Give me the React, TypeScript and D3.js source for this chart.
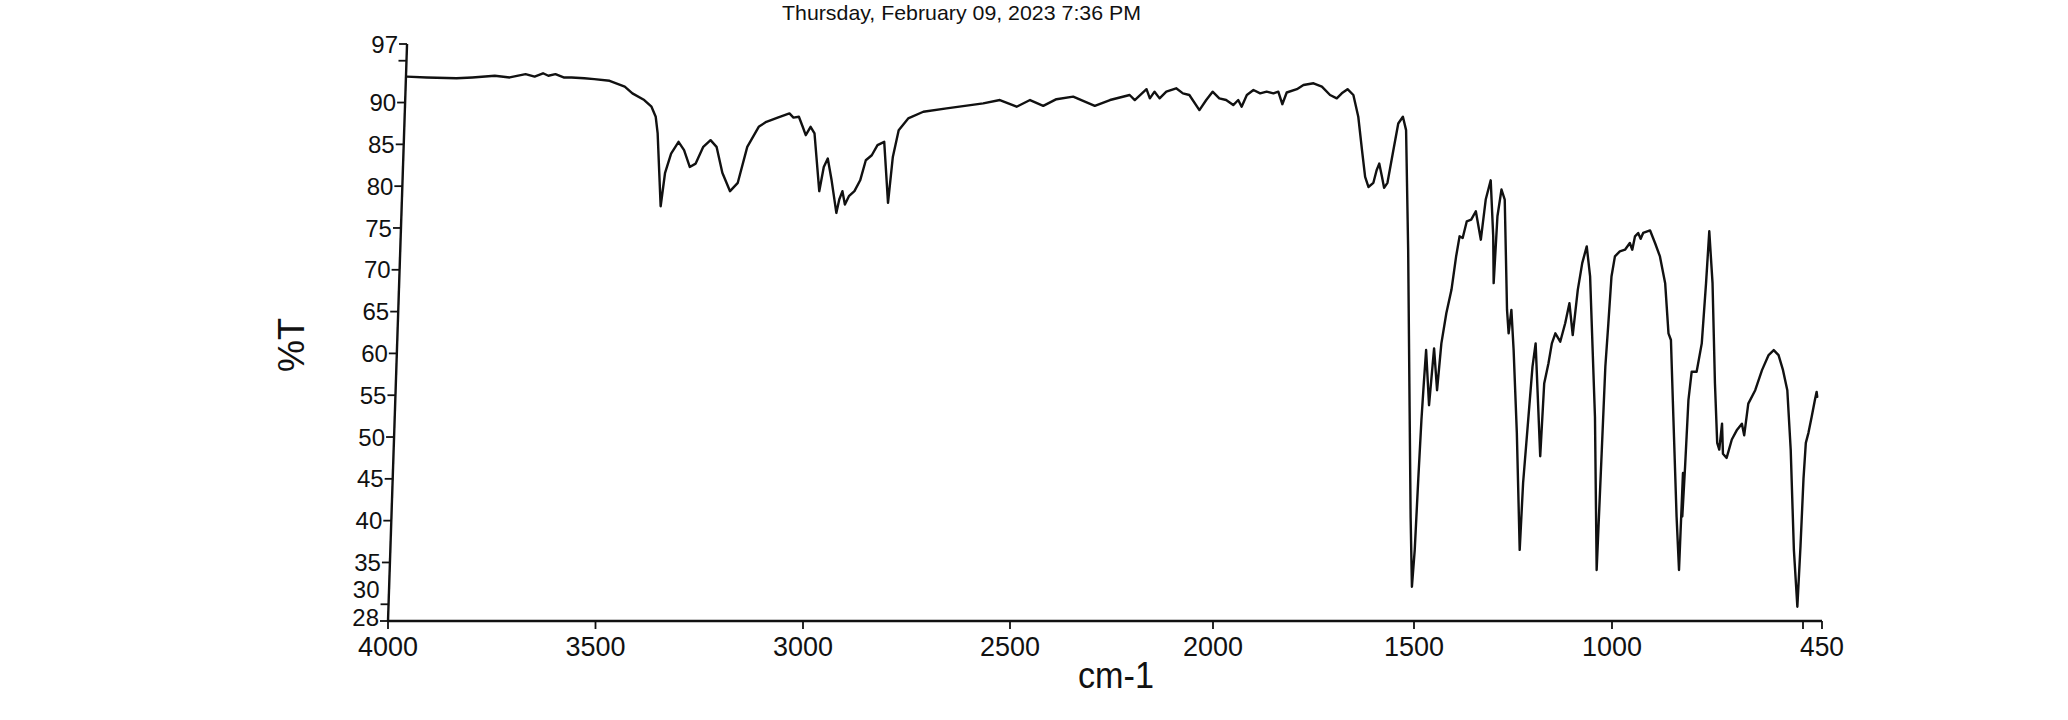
import React from "react";
import * as d3 from "d3";

const title = "Thursday, February 09, 2023 7:36 PM";
const xAxisLabel = "cm-1";
const yAxisLabel = "%T";

const xTickValues = [4000, 3500, 3000, 2500, 2000, 1500, 1000, 500, 450];
const xTickLabels = ["4000", "3500", "3000", "2500", "2000", "1500", "1000", "", "450"];
const yTickValues = [97, 95, 90, 85, 80, 75, 70, 65, 60, 55, 50, 45, 40, 35, 30, 28];
const yTickLabels = ["97", "", "90", "85", "80", "75", "70", "65", "60", "55", "50", "45", "40", "35", "30", "28"];

const wavenumbers = [
  3998, 3950, 3878, 3840, 3786, 3750, 3712, 3690, 3670, 3657, 3640, 3620, 3601, 3570, 3546, 3509,
  3472, 3453, 3424, 3406, 3395, 3389, 3382, 3376, 3368, 3355, 3338, 3324, 3309, 3295, 3278, 3261,
  3246, 3230, 3210, 3192, 3172, 3146, 3128, 3101, 3073, 3063, 3050, 3040, 3032, 3021, 3011, 2995,
  2986, 2977, 2966, 2952, 2946, 2939, 2932, 2923, 2910, 2897, 2885, 2871, 2858, 2842, 2828, 2820,
  2808, 2786, 2750, 2694, 2650, 2606, 2566, 2525, 2493, 2460, 2428, 2387, 2333, 2296, 2248, 2235,
  2207, 2198, 2187, 2174, 2158, 2134, 2117, 2101, 2075, 2059, 2044, 2027, 2010, 1992, 1980, 1971,
  1959, 1943, 1926, 1910, 1893, 1881, 1870, 1860, 1835, 1819, 1794, 1773, 1752, 1735, 1723, 1709,
  1694, 1680, 1668, 1658, 1649, 1637, 1630, 1624, 1616, 1610, 1602, 1590, 1580, 1569, 1560, 1545,
  1531, 1517, 1508, 1504, 1501, 1498, 1495, 1492, 1480, 1472, 1461, 1454, 1444, 1433, 1424, 1417,
  1409, 1400, 1389, 1378, 1363, 1354, 1343, 1332, 1327, 1323, 1315, 1306, 1291, 1285, 1280, 1271,
  1256, 1239, 1236, 1228, 1222, 1216, 1195, 1191, 1182, 1175, 1167, 1154, 1143, 1134, 1123, 1114,
  1105, 1095, 1084, 1060, 1043, 1040, 1038, 1034, 1030, 1023, 1011, 998, 986, 979, 973, 965,
  958, 952, 934, 920, 906, 890, 877, 870, 857, 840, 829, 827, 825, 822, 819, 813,
  800, 789, 783, 779, 766, 751, 740, 734, 729, 724, 714, 702, 690, 677, 670, 662,
  645, 629, 613, 600, 587, 574, 561, 547, 530, 516, 513, 511, 508, 502, 495, 488,
  484, 482,
];

const transmittance = [
  93.1, 93.0, 92.9, 93.0, 93.2, 93.0, 93.4, 93.1, 93.5, 93.2, 93.4, 93.0, 93.0, 92.9, 92.8, 92.6,
  91.9, 91.1, 90.3, 89.5, 88.3, 86.3, 81.6, 77.6, 81.6, 83.9, 85.3, 84.3, 82.3, 82.7, 84.7, 85.5,
  84.7, 81.6, 79.4, 80.4, 84.7, 87.1, 87.7, 88.2, 88.7, 88.2, 88.3, 87.1, 86.1, 87.1, 86.3, 79.4,
  82.3, 83.3, 80.7, 76.8, 78.4, 79.4, 77.8, 78.8, 79.4, 80.7, 83.1, 83.7, 84.9, 85.3, 78.0, 83.5,
  86.7, 88.1, 88.9, 89.3, 89.6, 89.9, 90.3, 89.5, 90.3, 89.6, 90.4, 90.7, 89.6, 90.3, 90.9, 90.3,
  91.6, 90.5, 91.3, 90.5, 91.3, 91.7, 91.1, 90.9, 89.1, 90.3, 91.3, 90.5, 90.3, 89.7, 90.3, 89.5,
  90.9, 91.5, 91.1, 91.3, 91.1, 91.3, 89.8, 91.2, 91.6, 92.1, 92.3, 91.9, 90.9, 90.5, 91.1, 91.6,
  90.9, 88.3, 84.3, 81.1, 79.9, 80.4, 81.9, 82.7, 81.1, 79.8, 80.4, 84.3, 87.5, 88.3, 86.7, 72.4,
  56.4, 40.5, 32.1, 36.5, 45.0, 52.0, 56.5, 60.4, 53.8, 60.6, 55.6, 61.2, 64.8, 67.6, 71.6, 74.0,
  73.8, 75.8, 76.0, 77.0, 73.6, 78.4, 80.7, 74.0, 68.4, 76.4, 79.6, 78.4, 65.2, 62.4, 65.2, 60.4,
  50.5, 36.5, 44.5, 52.4, 58.4, 61.2, 47.7, 56.4, 58.8, 61.2, 62.4, 61.4, 63.6, 66.0, 62.2, 67.6,
  70.8, 72.8, 69.2, 52.4, 34.1, 48.5, 58.4, 63.6, 69.2, 71.6, 72.2, 72.4, 73.2, 72.4, 74.0, 74.4,
  73.7, 74.4, 74.7, 73.2, 71.6, 68.4, 62.4, 61.6, 52.4, 40.5, 34.1, 45.7, 40.5, 46.5, 54.4, 57.8,
  57.8, 61.2, 68.4, 74.6, 68.4, 56.4, 49.3, 48.5, 51.6, 48.0, 47.5, 49.7, 50.8, 51.6, 50.2, 54.0,
  55.6, 58.0, 59.8, 60.4, 59.8, 58.0, 55.6, 48.5, 36.5, 29.7, 37.0, 45.0, 49.3, 50.5, 52.4, 54.4,
  55.4, 54.8,
];

export default function App() {
  const W = 2068;
  const H = 720;

  // wavenumber axis (scan shows slight compression to the right)
  const x = d3
    .scaleLinear()
    .domain(xTickValues)
    .range([388, 595.5, 803, 1010, 1213, 1414, 1612, 1803, 1822]);
  const y = d3.scaleLinear().domain([28, 97]).range([621, 44]);

  const yb = y(28);
  const slant = 0.033; // scanned page: vertical axis leans to the right
  const sk = (px: number, py: number) => px + slant * (yb - py);

  const pts: [number, number][] = wavenumbers.map((w, i) => [w, transmittance[i]]);
  const line = d3
    .line<[number, number]>()
    .x((d) => sk(x(d[0]), y(d[1])))
    .y((d) => y(d[1]))
    .curve(d3.curveLinear);

  const axisFont = "'Liberation Sans', Arial, sans-serif";
  const x0 = x(4000);
  const yTop = y(97);
  const labelShift: Record<number, number> = { 30: -15, 28: -4 };

  return (
    <svg
      width={W}
      height={H}
      style={{ position: "absolute", left: 0, top: 0, background: "#fff" }}
    >
      <rect x={0} y={0} width={W} height={H} fill="#ffffff" />
      <text
        x={782}
        y={20}
        fontFamily={axisFont}
        fontSize={21}
        textLength={359}
        lengthAdjust="spacingAndGlyphs"
        fill="#111"
      >
        {title}
      </text>

      {/* x axis */}
      <line x1={x0} x2={x(450)} y1={yb} y2={yb} stroke="#111" strokeWidth={2.4} />
      {xTickValues.map((v, i) => (
        <g key={"xt" + v}>
          <line x1={x(v)} x2={x(v)} y1={yb} y2={yb + 8} stroke="#111" strokeWidth={1.8} />
          {xTickLabels[i] !== "" && (
            <text
              x={x(v)}
              y={656}
              textAnchor="middle"
              fontFamily={axisFont}
              fontSize={27}
              textLength={xTickLabels[i].length === 4 ? 60 : 44}
              lengthAdjust="spacingAndGlyphs"
              fill="#111"
            >
              {xTickLabels[i]}
            </text>
          )}
        </g>
      ))}
      <text
        x={1116}
        y={688}
        textAnchor="middle"
        fontFamily={axisFont}
        fontSize={36}
        textLength={76}
        lengthAdjust="spacingAndGlyphs"
        fill="#111"
      >
        {xAxisLabel}
      </text>

      {/* y axis (leaning) */}
      <line x1={sk(x0, yb)} y1={yb} x2={sk(x0, yTop)} y2={yTop} stroke="#111" strokeWidth={2.4} />
      {yTickValues.map((v, i) => {
        const py = y(v);
        const px = sk(x0, py);
        return (
          <g key={"yt" + v}>
            <line x1={px - 8} x2={px} y1={py} y2={py} stroke="#111" strokeWidth={1.8} />
            {yTickLabels[i] !== "" && (
              <text
                x={px - 9}
                y={py + (labelShift[v] || 0)}
                dy="0.36em"
                textAnchor="end"
                fontFamily={axisFont}
                fontSize={24}
                fill="#111"
              >
                {yTickLabels[i]}
              </text>
            )}
          </g>
        );
      })}
      <text
        transform={`translate(291,345) rotate(-90)`}
        textAnchor="middle"
        dy="0.36em"
        fontFamily={axisFont}
        fontSize={36}
        fill="#111"
      >
        {yAxisLabel}
      </text>

      {/* spectrum */}
      <path
        d={line(pts) || ""}
        fill="none"
        stroke="#111"
        strokeWidth={2.4}
        strokeLinejoin="round"
        strokeLinecap="round"
      />
    </svg>
  );
}
